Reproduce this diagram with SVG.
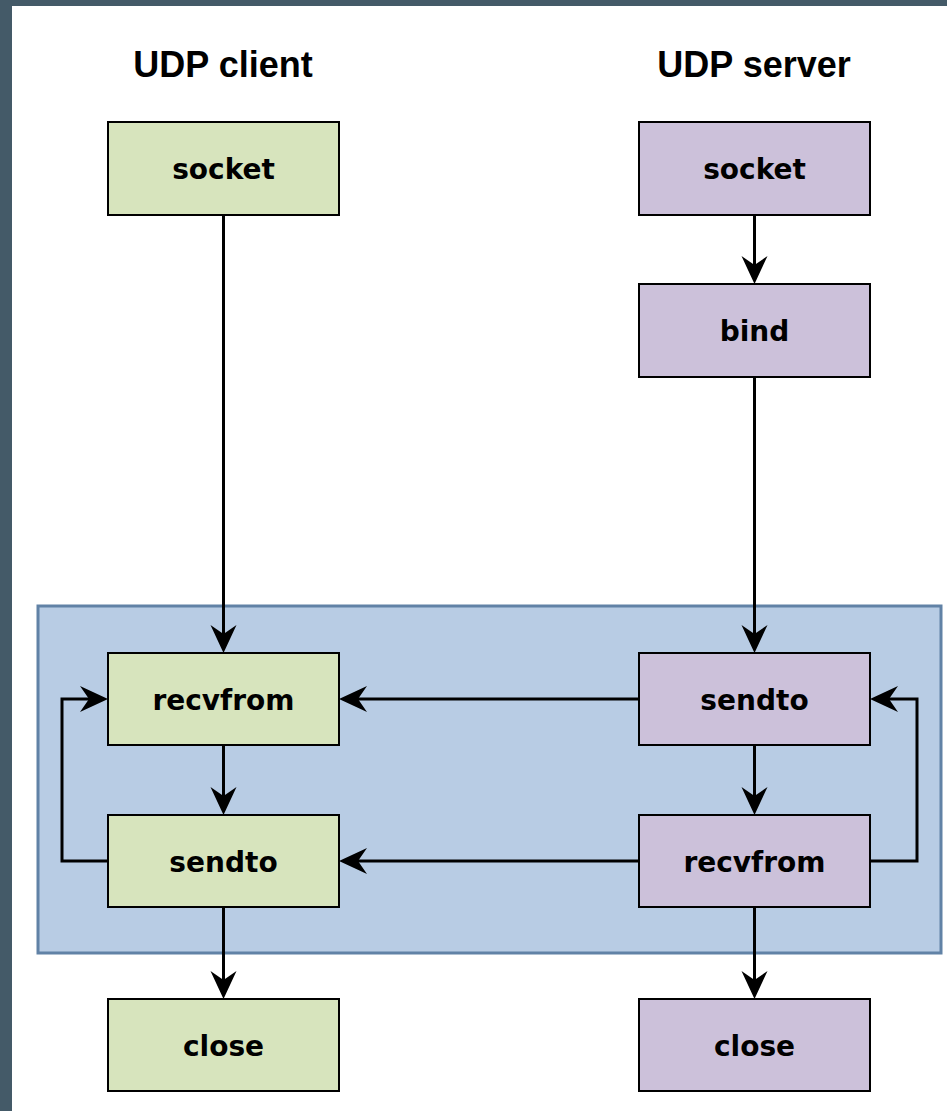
<svg xmlns="http://www.w3.org/2000/svg" width="947" height="1111" viewBox="0 0 947 1111">
  <style>
    .title{font-family:"Liberation Sans",Arial,sans-serif;font-weight:bold;font-size:36px;fill:#000;text-anchor:middle}
    .lbl{font-family:"DejaVu Sans",sans-serif;font-weight:bold;font-size:28px;fill:#000;text-anchor:middle}
    .g{fill:#d7e4bd;stroke:#000;stroke-width:2}
    .p{fill:#ccc1da;stroke:#000;stroke-width:2}
    .c{fill:none;stroke:#000;stroke-width:3}
  </style>
  <defs>
    <marker id="arr" markerUnits="userSpaceOnUse" markerWidth="30" markerHeight="30" viewBox="0 0 30 30" refX="9" refY="15" orient="auto">
      <path d="M0,2 L28,15 L0,28 L9,15 Z" fill="#000"/>
    </marker>
  </defs>
  <rect x="0" y="0" width="947" height="1111" fill="#445a68"/>
  <rect x="12" y="6" width="935" height="1105" fill="#fff"/>
  <rect id="loop-area" x="38" y="606" width="903" height="347" fill="#b8cce4" stroke="#6182a6" stroke-width="3"/>
  <text class="title" x="223" y="77">UDP client</text>
  <text class="title" x="754" y="77">UDP server</text>
  <g id="connectors">
    <path class="c" d="M223.5,215 V634" marker-end="url(#arr)"/>
    <path class="c" d="M754.5,215 V265" marker-end="url(#arr)"/>
    <path class="c" d="M754.5,377 V634" marker-end="url(#arr)"/>
    <path class="c" d="M639,699 H358" marker-end="url(#arr)"/>
    <path class="c" d="M223.5,745 V796" marker-end="url(#arr)"/>
    <path class="c" d="M754.5,745 V796" marker-end="url(#arr)"/>
    <path class="c" d="M639,861 H358" marker-end="url(#arr)"/>
    <path class="c" d="M108,861 H62 V699 H89" marker-end="url(#arr)"/>
    <path class="c" d="M870,861 H917 V699 H889" marker-end="url(#arr)"/>
    <path class="c" d="M223.5,907 V980" marker-end="url(#arr)"/>
    <path class="c" d="M754.5,907 V980" marker-end="url(#arr)"/>
  </g>
  <g id="client-socket"><rect class="g" x="108" y="122" width="231" height="93"/><text class="lbl" x="223.5" y="179">socket</text></g>
  <g id="client-recvfrom"><rect class="g" x="108" y="653" width="231" height="92"/><text class="lbl" x="223.5" y="710">recvfrom</text></g>
  <g id="client-sendto"><rect class="g" x="108" y="815" width="231" height="92"/><text class="lbl" x="223.5" y="872">sendto</text></g>
  <g id="client-close"><rect class="g" x="108" y="999" width="231" height="92"/><text class="lbl" x="223.5" y="1056">close</text></g>
  <g id="server-socket"><rect class="p" x="639" y="122" width="231" height="93"/><text class="lbl" x="754.5" y="179">socket</text></g>
  <g id="server-bind"><rect class="p" x="639" y="284" width="231" height="93"/><text class="lbl" x="754.5" y="341">bind</text></g>
  <g id="server-sendto"><rect class="p" x="639" y="653" width="231" height="92"/><text class="lbl" x="754.5" y="710">sendto</text></g>
  <g id="server-recvfrom"><rect class="p" x="639" y="815" width="231" height="92"/><text class="lbl" x="754.5" y="872">recvfrom</text></g>
  <g id="server-close"><rect class="p" x="639" y="999" width="231" height="92"/><text class="lbl" x="754.5" y="1056">close</text></g>
</svg>
